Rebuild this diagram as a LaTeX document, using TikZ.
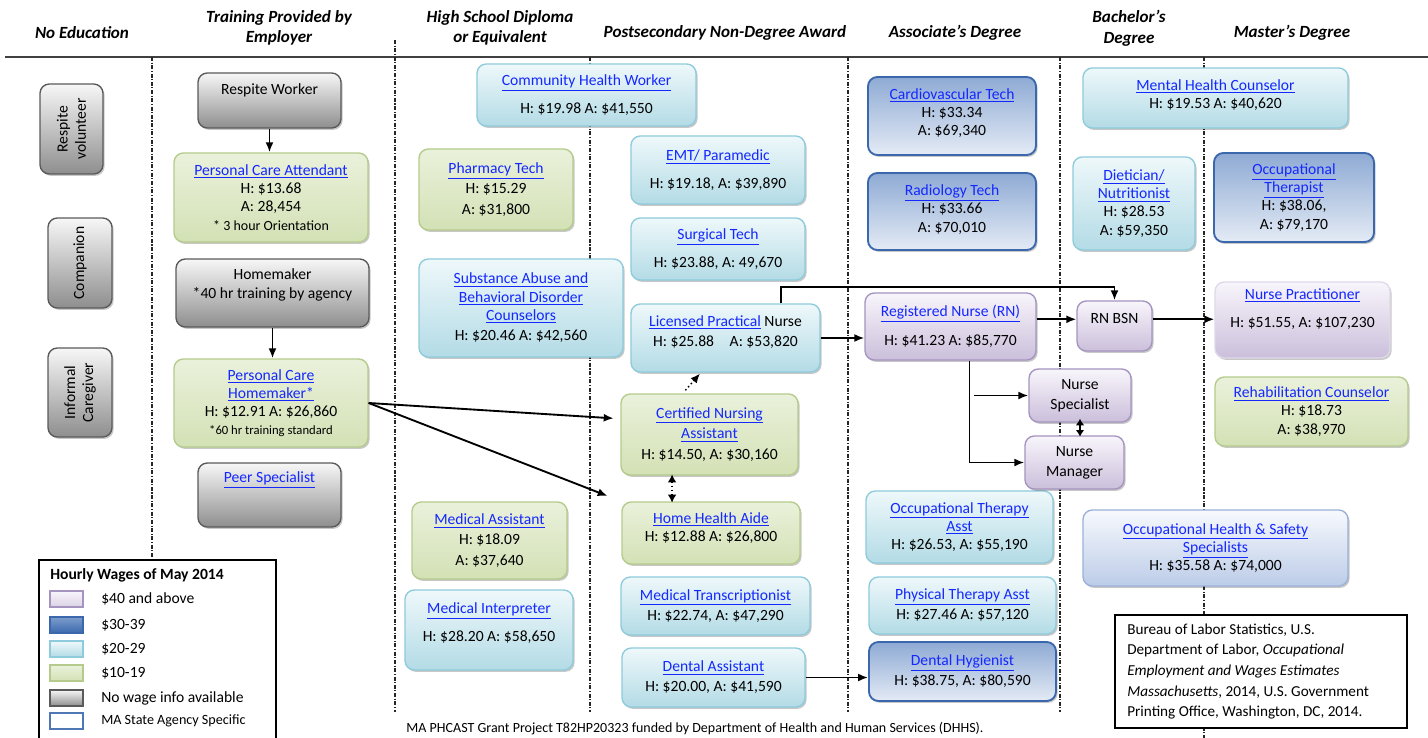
\documentclass[tikz,border=0pt]{standalone}
\usepackage{fontspec}
\setmainfont{Carlito}
\usetikzlibrary{arrows.meta,shadows,calc}
\definecolor{grayB}{HTML}{5A5A5A}\definecolor{grayT}{HTML}{F7F7F7}\definecolor{grayBot}{HTML}{8E8E8E}
\definecolor{greenB}{HTML}{B5CB8C}\definecolor{greenT}{HTML}{EAF1DB}\definecolor{greenBot}{HTML}{D3E1B5}
\definecolor{cyanB}{HTML}{8ECBDC}\definecolor{cyanT}{HTML}{EEF8FA}\definecolor{cyanBot}{HTML}{B3DBE6}
\definecolor{dblueB}{HTML}{3B68AD}\definecolor{dblueT}{HTML}{8EAAD4}\definecolor{dblueBot}{HTML}{E4EBF5}
\definecolor{purpB}{HTML}{A594C0}\definecolor{purpT}{HTML}{F8F5FB}\definecolor{purpBot}{HTML}{CBBFDB}
\definecolor{ohsB}{HTML}{9BB2D8}\definecolor{ohsT}{HTML}{F7F9FD}\definecolor{ohsBot}{HTML}{BCCCE8}
\definecolor{linkblue}{RGB}{20,40,255}
\definecolor{hdrline}{HTML}{404040}
\newcommand{\bxf}{\fontsize{11.7}{13.6}\selectfont}
\newcommand{\lnk}[1]{\textcolor{linkblue}{\underline{#1}}}
\tikzset{
  base/.style={draw, rounded corners=7pt, line width=1pt, inner sep=0pt,
    drop shadow={shadow xshift=1.2pt, shadow yshift=-1.4pt, fill=black, opacity=0.22}},
  bgray/.style={base, draw=grayB, top color=grayT, bottom color=grayBot},
  bgreen/.style={base, draw=greenB, top color=greenT, bottom color=greenBot},
  bcyan/.style={base, draw=cyanB, top color=cyanT, bottom color=cyanBot},
  bdblue/.style={base, draw=dblueB, line width=1.4pt, top color=dblueT, bottom color=dblueBot},
  bpurp/.style={base, draw=purpB, top color=purpT, bottom color=purpBot},
  bohs/.style={base, draw=ohsB, top color=ohsT, bottom color=ohsBot},
  txt/.style={font=\bxf, align=center, inner sep=0pt, text=black},
  hdr/.style={font=\bfseries\itshape\fontsize{12.8}{15.5}\selectfont, align=center, inner sep=0pt},
  arr/.style={-{Latex[length=7.5pt,width=6pt]}, line width=1.4pt},
  darr/.style={-{Latex[length=7pt,width=6pt]}, line width=1.1pt, dotted},
  ddarr/.style={{Latex[length=6pt,width=6.5pt]}-{Latex[length=6pt,width=6.5pt]}, line width=1.1pt, dotted},
  dbarr/.style={{Latex[length=5pt,width=6.5pt]}-{Latex[length=5pt,width=6.5pt]}, line width=1.4pt},
  divline/.style={line width=0.8pt, black!85, dash pattern=on 3pt off 1.2pt on 0.8pt off 1.2pt},
  sw/.style={draw, line width=1pt, inner sep=0pt, minimum width=24.75pt, minimum height=12pt,
    drop shadow={shadow xshift=1pt, shadow yshift=-1pt, fill=black, opacity=0.2}},
  legtxt/.style={anchor=west, font=\fontsize{11.7}{13}\selectfont, inner sep=0pt},
}
% name, style, x1, y1, x2, y2, dy(px), text
\newcommand{\jb}[8]{%
  \node[#2, minimum width={(#5-#3)*0.75pt}, minimum height={(#6-#4)*0.75pt}] (#1) at ({(#3+#5)/2},{(#4+#6)/2}) {};
  \node[txt] (#1t) at ([yshift={-0.75pt*(#7)}]#1.center) {#8};
}
\begin{document}
\begin{tikzpicture}[x=0.75pt,y=-0.75pt]
\useasboundingbox (0,0) rectangle (1428,738);
\clip (0,0) rectangle (1428,738);
\fill[white] (0,0) rectangle (1428,738);

% headers
\node[hdr] (h1) at (82,33) {No Education};
\node[hdr] (h2) at (279,28) {Training Provided by\\Employer};
\node[hdr] (h3) at (500,28) {High School Diploma\\or Equivalent};
\node[hdr] (h4) at (725,33) {Postsecondary Non-Degree Award};
\node[hdr] (h5) at (955,33) {Associate’s Degree};
\node[hdr] (h6) at (1129,28) {Bachelor’s\\Degree};
\node[hdr] (h7) at (1292,33) {Master’s Degree};
\draw[line width=1.6pt, hdrline] (5,57) -- (1428,57);

% dividers
\draw[divline] (152,57) -- (152,560);
\draw[divline] (395,40) -- (395,712);
\draw[divline] (590,57) -- (590,712);
\draw[divline] (848,57) -- (848,712);
\draw[divline] (1060,57) -- (1060,712);
\draw[divline] (1204,57) -- (1204,738);

% No education
\jb{rv}{bgray}{40}{84}{103}{174}{0}{}
\node[txt, rotate=90] (rvt2) at (rv.center) {Respite\\volunteer};
\jb{comp}{bgray}{48}{218}{112}{308}{0}{}
\node[txt, rotate=90] (compt2) at (comp.center) {Companion};
\jb{ic}{bgray}{48}{348}{112}{437}{0}{}
\node[txt, rotate=90] (ict2) at (ic.center) {Informal\\Caregiver};

% Training
\jb{rw}{bgray}{198}{73}{341}{128}{-10}{Respite Worker}
\jb{pca}{bgreen}{174}{153}{368}{242}{0}{\lnk{Personal Care Attendant}\\H: \$13.68\\A: 28,454\\{\fontsize{10.5}{13}\selectfont * 3 hour Orientation}}
\jb{hm}{bgray}{176}{259}{369}{327}{-8}{Homemaker\\[1pt]*40 hr training by agency}
\jb{pch}{bgreen}{174}{359}{368}{447}{0}{\lnk{Personal Care}\\\lnk{Homemaker*}\\H: \$12.91 A: \$26,860\\{\fontsize{9.5}{12}\selectfont *60 hr training standard}}
\jb{peer}{bgray}{198}{463}{341}{527}{-15}{\lnk{Peer Specialist}}

% High school
\jb{chw}{bcyan}{477}{64}{696}{126}{0}{\lnk{Community Health Worker}\\[7pt]H: \$19.98 A: \$41,550}
\jb{ph}{bgreen}{419}{149}{573}{230}{0}{\lnk{Pharmacy Tech}\\[1.5pt]H: \$15.29\\[1.5pt]A: \$31,800}
\jb{sa}{bcyan}{419}{259}{623}{357}{0}{\lnk{Substance Abuse and}\\\lnk{Behavioral Disorder}\\\lnk{Counselors}\\[2pt]H: \$20.46 A: \$42,560}
\jb{ma}{bgreen}{412}{502}{567}{579}{0}{\lnk{Medical Assistant}\\[1.5pt]H: \$18.09\\[1.5pt]A: \$37,640}
\jb{mi}{bcyan}{405}{590}{573}{670}{-7}{\lnk{Medical Interpreter}\\[7pt]H: \$28.20 A: \$58,650}

% Postsecondary
\jb{emt}{bcyan}{631}{136}{805}{204}{0}{\lnk{EMT/ Paramedic}\\[7pt]H: \$19.18, A: \$39,890}
\jb{st}{bcyan}{631}{218}{805}{280}{0}{\lnk{Surgical Tech}\\[7pt]H: \$23.88, A: 49,670}
\jb{lpn}{bcyan}{631}{304}{820}{372}{-6}{\lnk{Licensed Practical} Nurse\\[1.5pt]H: \$25.88\quad A: \$53,820}
\jb{cna}{bgreen}{621}{394}{798}{475}{0}{\lnk{Certified Nursing}\\[2pt]\lnk{Assistant}\\[2pt]H: \$14.50, A: \$30,160}
\jb{hha}{bgreen}{622}{502}{800}{564}{-5}{\lnk{Home Health Aide}\\H: \$12.88 A: \$26,800}
\jb{mt}{bcyan}{621}{577}{810}{635}{0}{\lnk{Medical Transcriptionist}\\[1.5pt]H: \$22.74, A: \$47,290}
\jb{da}{bcyan}{622}{648}{805}{707}{0}{\lnk{Dental Assistant}\\[1.5pt]H: \$20.00, A: \$41,590}

% Associate
\jb{cv}{bdblue}{868}{77}{1036}{155}{-3}{\lnk{Cardiovascular Tech}\\H: \$33.34\\A: \$69,340}
\jb{rad}{bdblue}{868}{173}{1036}{250}{-2}{\lnk{Radiology Tech}\\H: \$33.66\\A: \$70,010}
\jb{rn}{bpurp}{865}{293}{1036}{360}{0}{\lnk{Registered Nurse (RN)}\\[8pt]H: \$41.23 A: \$85,770}
\jb{ota}{bcyan}{866}{491}{1053}{563}{0}{\lnk{Occupational Therapy}\\\lnk{Asst}\\H: \$26.53, A: \$55,190}
\jb{pta}{bcyan}{869}{577}{1056}{634}{0}{\lnk{Physical Therapy Asst}\\[1.5pt]H: \$27.46 A: \$57,120}
\jb{dh}{bdblue}{869}{642}{1056}{701}{0}{\lnk{Dental Hygienist}\\[1.5pt]H: \$38.75, A: \$80,590}

% Bachelor
\jb{mhc}{bcyan}{1083}{68}{1348}{128}{-3}{\lnk{Mental Health Counselor}\\H: \$19.53 A: \$40,620}
\jb{diet}{bcyan}{1073}{157}{1195}{250}{0}{\lnk{Dietician/}\\\lnk{Nutritionist}\\H: \$28.53\\A: \$59,350}
\jb{bsn}{bpurp}{1077}{301}{1152}{351}{-8}{RN BSN}
\jb{ns}{bpurp}{1029}{369}{1131}{422}{0}{Nurse\\[1.5pt]Specialist}
\jb{nm}{bpurp}{1025}{436}{1124}{489}{0}{Nurse\\[1.5pt]Manager}
\jb{ohs}{bohs}{1083}{510}{1348}{586}{0}{\lnk{Occupational Health \& Safety}\\\lnk{Specialists}\\H: \$35.58 A: \$74,000}

% Master
\jb{ot}{bdblue}{1214}{153}{1374}{242}{0}{\lnk{Occupational}\\\lnk{Therapist}\\H: \$38.06,\\A: \$79,170}
\jb{np}{bpurp, draw=purpB!35}{1215}{282}{1390}{358}{-11}{\lnk{Nurse Practitioner}\\[7pt]H: \$51.55, A: \$107,230}
\jb{reh}{bgreen}{1215}{377}{1408}{446}{0}{\lnk{Rehabilitation Counselor}\\H: \$18.73\\A: \$38,970}

% connectors
\draw[arr] (rw.south) -- (rw.south |- pca.north);
\draw[arr] (hm.south) -- (hm.south |- pch.north);
\draw[arr, shorten >=5pt] (pch.east) -- (cna.170);
\draw[arr, shorten >=11pt] (pch.east) -- (hha.north west);
\coordinate (c1) at ($(cna.north west)!0.35!(cna.north east)$);
\coordinate (c2) at ($(lpn.south west)!0.37!(lpn.south east)$);
\draw[darr, shorten <=3pt, shorten >=1pt] (c1) -- (c2);
\coordinate (c3) at ($(cna.south west)!0.29!(cna.south east)$);
\draw[ddarr] ([yshift=1pt]c3) -- ([yshift=-1pt]c3 |- hha.north);
\draw[arr] (lpn.east) -- (lpn.east -| rn.west);
\coordinate (lb) at ($(lpn.north west)!0.79!(lpn.north east)$);
\coordinate (lbt) at (780,287);
\draw[arr] (lb) |- (bsn.north |- lbt) -- (bsn.north);
\draw[arr] (rn.east |- bsn.170) -- (bsn.170);
\draw[arr] (bsn.10) -- (bsn.10 -| np.west);
\coordinate (rb) at ($(rn.south west)!0.61!(rn.south east)$);
\draw[arr] (rb) |- (nm.west);
\draw[arr] ($(rb |- ns.west)+(5,0)$) -- (ns.west);
\draw[dbarr] ([yshift=3pt]ns.south) -- ([yshift=-1pt]ns.south |- nm.north);
\draw[arr] (da.east) -- (da.east -| dh.west);

% legend
\node[draw, line width=1pt, fill=white, minimum width={237*0.75pt}, minimum height={190*0.75pt}, inner sep=0pt] (leg) at (157.5,655) {};
\node[anchor=west, font=\bfseries\fontsize{11.7}{13}\selectfont, inner sep=0pt] (legt) at (50,575) {Hourly Wages of May 2014};
\node[sw, draw=purpB, top color=purpT, bottom color=purpBot!70] (lg1) at (66.5,599) {};
\node[sw, draw=dblueB, top color=dblueT!80!dblueB, bottom color=dblueB] (lg2) at (66.5,625) {};
\node[sw, draw=cyanB, top color=cyanT, bottom color=cyanBot] (lg3) at (66.5,649) {};
\node[sw, draw=greenB, top color=greenT, bottom color=greenBot] (lg4) at (66.5,673) {};
\node[sw, draw=grayB, top color=grayT, bottom color=grayBot] (lg5) at (66.5,698) {};
\node[sw, draw=dblueB!90, line width=1.8pt, fill=white] (lg6) at (66.5,721) {};
\node[legtxt] (lgt1) at (101,599) {\$40 and above};
\node[legtxt] (lgt2) at (101,625) {\$30-39};
\node[legtxt] (lgt3) at (101,649) {\$20-29};
\node[legtxt] (lgt4) at (101,673) {\$10-19};
\node[legtxt] (lgt5) at (101,698) {No wage info available};
\node[legtxt, font=\fontsize{10.6}{12}\selectfont] (lgt6) at (101,721) {MA State Agency Specific};

% citation
\node[draw, line width=1pt, fill=white, minimum width={292*0.75pt}, minimum height={113*0.75pt}, inner sep=0pt] (cit) at (1261,671.5) {};
\node[anchor=west, align=left, font=\fontsize{11.4}{15.5}\selectfont, inner sep=0pt] (citt) at (1127,671.5)
  {Bureau of Labor Statistics, U.S.\\Department of Labor, \textit{Occupational}\\\textit{Employment and Wages Estimates}\\\textit{Massachusetts}, 2014, U.S. Government\\Printing Office, Washington, DC, 2014.};

% footer
\node[font=\fontsize{10.5}{12}\selectfont, inner sep=0pt] (foot) at (695,729) {MA PHCAST Grant Project T82HP20323 funded by Department of Health and Human Services (DHHS).};
\end{tikzpicture}
\end{document}
